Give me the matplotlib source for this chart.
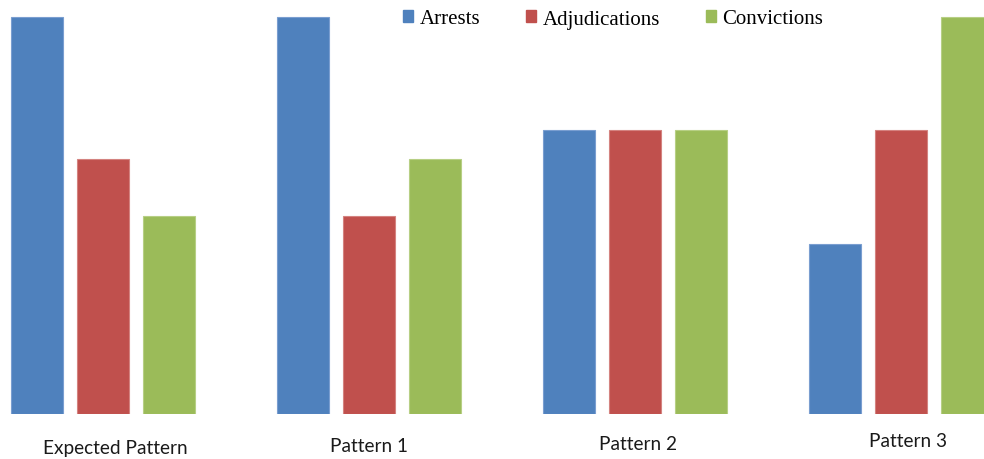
import matplotlib
matplotlib.use("Agg")
import matplotlib.pyplot as plt
from matplotlib.patches import Patch
from matplotlib.transforms import blended_transform_factory
import numpy as np

categories = ["Expected Pattern", "Pattern 1", "Pattern 2", "Pattern 3"]
series_names = ["Arrests", "Adjudications", "Convictions"]
arrests = [7, 7, 5, 3]
adjudications = [4.5, 3.5, 5, 5]
convictions = [3.5, 4.5, 5, 7]
series_values = [arrests, adjudications, convictions]

colors = ["#4F81BD", "#C0504D", "#9BBB59"]
edges = ["#7A9ED0", "#D48380", "#B7CF85"]

fig = plt.figure(figsize=(9.84, 4.60), dpi=100)
ax = fig.add_axes([0, 45 / 460, 1, 415 / 460])

x = np.arange(len(categories))
step = 0.248
width = 0.196
for i, (vals, c, ec) in enumerate(zip(series_values, colors, edges)):
    ax.bar(x + (i - 1) * step, vals, width, color=c, edgecolor=ec, linewidth=0.8)

ax.set_xlim(-103 / 266, (984 - 103) / 266)
ax.set_ylim(0, 7 * 415 / 397)
ax.axis("off")

# category labels sit at slightly different heights and offsets
label_dx = [0.045, 0.0, 0.01, 0.028]
label_py = [449, 447, 445, 442]
trans = blended_transform_factory(ax.transData, fig.transFigure)
for xi, name, dx, py in zip(x, categories, label_dx, label_py):
    ax.text(xi + dx, 1 - py / 460, name, ha="center", va="center",
            fontsize=13.7, family="Lato", color="#1a1a1a",
            clip_on=False, transform=trans)

handles = [Patch(facecolor=c, edgecolor=c) for c in colors]
leg = fig.legend(handles, series_names, loc="center",
                 bbox_to_anchor=(613 / 984, 1 - 20 / 460), ncol=3,
                 frameon=False, prop={"family": "Liberation Serif", "size": 15},
                 handlelength=0.5, handleheight=0.5, handletextpad=0.3,
                 columnspacing=2.2, borderaxespad=0, borderpad=0)

fig.savefig("out.png", dpi=100)
